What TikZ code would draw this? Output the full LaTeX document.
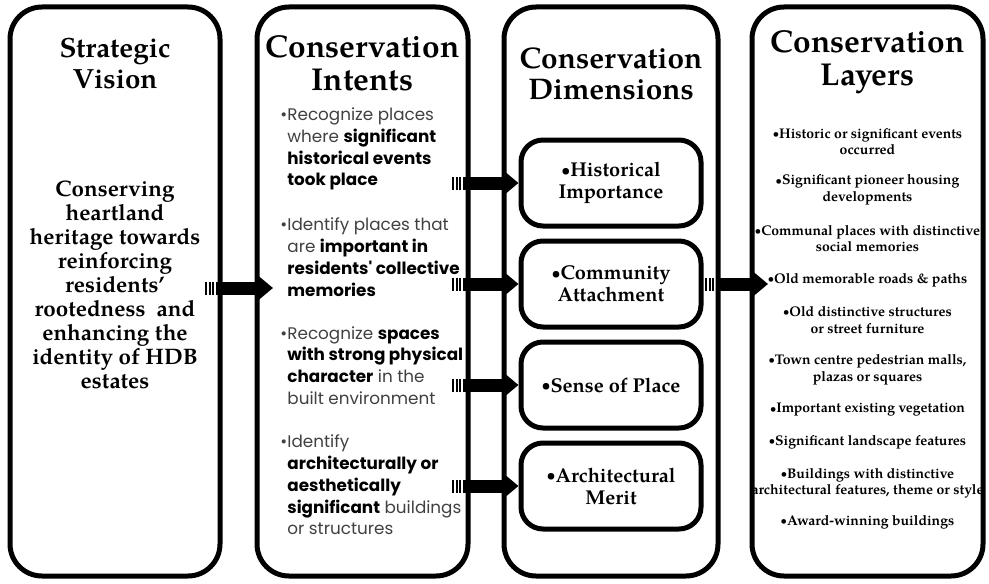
\documentclass[tikz,border=0pt]{standalone}
\usepackage{fontspec}
\usepackage{graphicx}
\setmainfont{texgyrepagella}[Extension=.otf,UprightFont=*-regular,BoldFont=*-bold,ItalicFont=*-italic,BoldItalicFont=*-bolditalic]
\newfontfamily\gothic{Poppins}
\usetikzlibrary{arrows.meta,positioning,calc}

\tikzset{
  colbox/.style={draw,line width=2.5pt,rounded corners=16pt,outer sep=0pt,minimum height=284.5pt},
  dimbox/.style={draw,line width=2.5pt,rounded corners=11pt,minimum width=90pt,minimum height=43pt,
    font=\fontsize{10}{11}\selectfont\bfseries,align=center},
  coltitle/.style={font=\fontsize{15.8}{16.5}\selectfont\bfseries,align=center},
  intent/.style={font=\gothic\fontsize{8.4}{10.9}\selectfont,align=left,anchor=west,inner sep=0pt,text=black!75},
  layer/.style={font=\fontsize{7}{8.3}\selectfont\bfseries,align=center,inner sep=0pt},
  stripes/.style={line width=6.5pt,dash pattern=on 1pt off 0.75pt},
  shaft/.style={line width=6.5pt,-{Triangle[length=7.5pt,width=12pt]}}
}
\newcommand{\hot}[1]{\textbf{\color{black}#1}}
\newcommand{\bul}{\raisebox{0.06em}{\scalebox{0.75}{\textbullet}}}
\newcommand{\stripedarrow}[2]{%
  \path #1 coordinate (sa-tail) #2 coordinate (sa-tip);
  \draw[stripes] (sa-tail) -- ++(10,0);
  \draw[shaft] ($(sa-tail)+(11,0)$) -- (sa-tip);
}

\begin{document}
\begin{tikzpicture}[x=0.5pt,y=-0.5pt]
  \useasboundingbox (0,0) rectangle (989,583);

  % Columns
  \node[colbox,minimum width=105pt] (vision) at (115,291.5) {};
  \node[colbox,minimum width=105.5pt] (intents) at (362.5,291.5) {};
  \node[colbox,minimum width=107pt] (dims) at (611,291.5) {};
  \node[colbox,minimum width=115.5pt] (layers) at (867.5,291.5) {};

  % Titles
  \node[coltitle,font=\fontsize{13.9}{15.5}\selectfont\bfseries] (vision-title) at (115,64) {Strategic\\Vision};
  \node[coltitle] (intents-title) at (362.5,63) {Conservation\\Intents};
  \node[coltitle,font=\fontsize{14.9}{15.5}\selectfont\bfseries] (dims-title) at (611,74) {Conservation\\Dimensions};
  \node[coltitle] (layers-title) at (867.5,62) {Conservation\\Layers};

  % Strategic vision
  \node[font=\fontsize{11.2}{12}\selectfont\bfseries,align=center] (vision-text) at (115,284.5)
    {Conserving\\heartland\\heritage towards\\reinforcing\\residents'\\rootedness\ \ and\\enhancing the\\identity of HDB\\estates};

  % Conservation intents
  \node[intent] (intent-1) at (287,149) {\llap{\textbullet}Recognize places\\where \hot{significant}\\\hot{historical events}\\\hot{took place}};
  \node[intent] (intent-2) at (287,257) {\llap{\textbullet}Identify places that\\are \hot{important in}\\\hot{residents' collective}\\\hot{memories}};
  \node[intent] (intent-3) at (287,365.5) {\llap{\textbullet}Recognize \hot{spaces}\\\hot{with strong physical}\\\hot{character} in the\\built environment};
  \node[intent] (intent-4) at (287,485) {\llap{\textbullet}Identify\\\hot{architecturally or}\\\hot{aesthetically}\\\hot{significant} buildings\\or structures};

  % Conservation dimensions
  \node[dimbox] (hist) at (611,183) {\bul Historical\\Importance};
  \node[dimbox,below=5pt of hist] (comm) {\bul Community\\Attachment};
  \node[dimbox,below=5pt of comm] (sense) {\bul Sense of Place};
  \node[dimbox,below=5pt of sense] (merit) {\bul Architectural\\Merit};

  % Conservation layers
  \foreach \yy/\txt [count=\i] in {
      141.5/{\bul Historic or significant events\\occurred},
      190/{\bul Significant pioneer housing\\developments},
      238.5/{\bul Communal places with distinctive\\social memories},
      280/{\bul Old memorable roads \& paths},
      320/{\bul Old distinctive structures\\or street furniture},
      369.5/{\bul Town centre pedestrian malls,\\plazas or squares},
      410/{\bul Important existing vegetation},
      442/{\bul Significant landscape features},
      483.5/{\bul Buildings with distinctive\\architectural features, theme or style},
      522/{\bul Award-winning buildings}}
    \node[layer] (layer-\i) at (867.5,\yy) {\txt};

  % Arrows
  \stripedarrow{($(vision.east)+(-15,-3.5)$)}{($(intents.west)+(16,-3.5)$)}
  \foreach \d in {hist,comm,sense,merit}
    {\stripedarrow{($(intents.east|-\d.west)+(-16,0)$)}{(\d.west)}}
  \stripedarrow{($(comm.east)+(1.5,0)$)}{($(layers.west|-comm.east)+(16,0)$)}
\end{tikzpicture}
\end{document}
